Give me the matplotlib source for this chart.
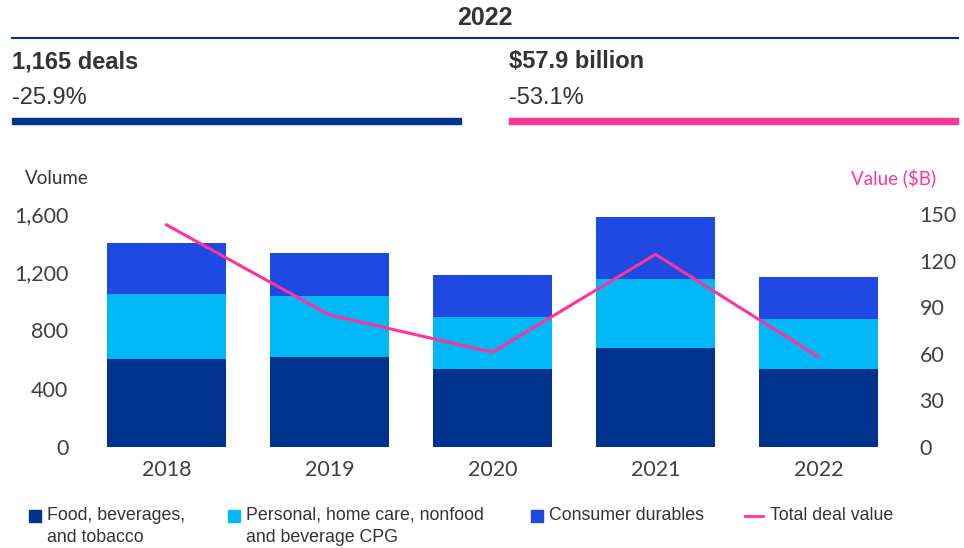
import matplotlib.pyplot as plt
from matplotlib.patches import Rectangle
from matplotlib.lines import Line2D

# Deal volume by sector (stacked) and total deal value
years = ["2018", "2019", "2020", "2021", "2022"]
food_bev = [604, 618, 536, 680, 536]
personal_care = [447, 419, 357, 474, 343]
durables = [350, 296, 289, 426, 286]
deal_value = [143, 85, 61, 124, 57.9]

vol_ticks = [0, 400, 800, 1200, 1600]
val_ticks = [0, 30, 60, 90, 120, 150]

NAVY = "#00338D"
CYAN = "#00B8F5"
BLUE = "#1E49E2"
PINK = "#FD349C"
GREY = "#333333"

narrow = ["Liberation Sans", "DejaVu Sans"]
light = ["Lato", "DejaVu Sans"]

W, H = 964, 548
fig = plt.figure(figsize=(W / 100, H / 100), dpi=100)


def fx(px):
    return px / W


def fy(py):
    return 1 - py / H


ax = fig.add_axes([fx(85), fy(447), fx(900) - fx(85), fy(214) - fy(447)])
x = range(len(years))
bottom2 = [a + b for a, b in zip(food_bev, personal_care)]
ax.bar(x, food_bev, width=0.724, color=NAVY)
ax.bar(x, personal_care, width=0.724, bottom=food_bev, color=CYAN)
ax.bar(x, durables, width=0.724, bottom=bottom2, color=BLUE)
ax.set_xlim(-0.5, len(years) - 0.5)
ax.set_ylim(0, 1600)
ax.set_yticks(vol_ticks)
ax.set_yticklabels([f"{v:,}" for v in vol_ticks])
ax.set_xticks(list(x))
ax.set_xticklabels(years)

ax2 = ax.twinx()
ax2.plot(list(x), deal_value, color=PINK, lw=2.2)
ax2.set_ylim(0, 150)
ax2.set_yticks(val_ticks)

for a in (ax, ax2):
    for s in a.spines.values():
        s.set_visible(False)
    a.tick_params(length=0, labelsize=15.5, labelcolor="#404040")
    for lbl in a.get_xticklabels() + a.get_yticklabels():
        lbl.set_family(light)
ax.tick_params(axis="y", pad=12)
ax.tick_params(axis="x", pad=9)
ax2.tick_params(axis="y", pad=14)

fig.text(fx(25), fy(178), "Volume", fontsize=13.5, color=GREY, family=light, va="center")
fig.text(fx(936), fy(178), "Value ($B)", fontsize=13.5, color=PINK, family=light,
         va="center", ha="right")

# Header block
fig.text(fx(485), fy(18), "2022", fontsize=18, fontweight="bold", color=GREY,
         family=narrow, ha="center", va="center")
fig.add_artist(Line2D([fx(12), fx(958)], [fy(38), fy(38)], color=NAVY, lw=1.5))
fig.text(fx(12), fy(62), "1,165 deals", fontsize=17, fontweight="bold", color=GREY,
         family=narrow, va="center")
fig.text(fx(12), fy(98), "-25.9%", fontsize=17, color=GREY, family=narrow, va="center")
fig.text(fx(509), fy(62), "$57.9 billion", fontsize=17, fontweight="bold", color=GREY,
         family=narrow, va="center")
fig.text(fx(509), fy(98), "-53.1%", fontsize=17, color=GREY, family=narrow, va="center")
fig.add_artist(Rectangle((fx(12), fy(124)), fx(461) - fx(12), fy(118) - fy(124),
                         color=NAVY, transform=fig.transFigure))
fig.add_artist(Rectangle((fx(509), fy(124)), fx(958) - fx(509), fy(118) - fy(124),
                         color=PINK, transform=fig.transFigure))

# Legend
items = [
    (29, "Food, beverages,\nand tobacco", NAVY, "sq"),
    (228, "Personal, home care, nonfood\nand beverage CPG", CYAN, "sq"),
    (531, "Consumer durables", BLUE, "sq"),
    (745, "Total deal value", PINK, "ln"),
]
for px, text, col, kind in items:
    if kind == "sq":
        fig.add_artist(Rectangle((fx(px), fy(522)), fx(12) - fx(0), fy(510) - fy(522),
                                 color=col, transform=fig.transFigure))
        tx = px + 18
    else:
        fig.add_artist(Line2D([fx(px), fx(px + 18)], [fy(516), fy(516)], color=col, lw=2))
        tx = px + 25
    fig.text(fx(tx), fy(507), text, fontsize=12.8, color=GREY, family=narrow,
             va="top", linespacing=1.4)

fig.savefig("out.png", dpi=100)
